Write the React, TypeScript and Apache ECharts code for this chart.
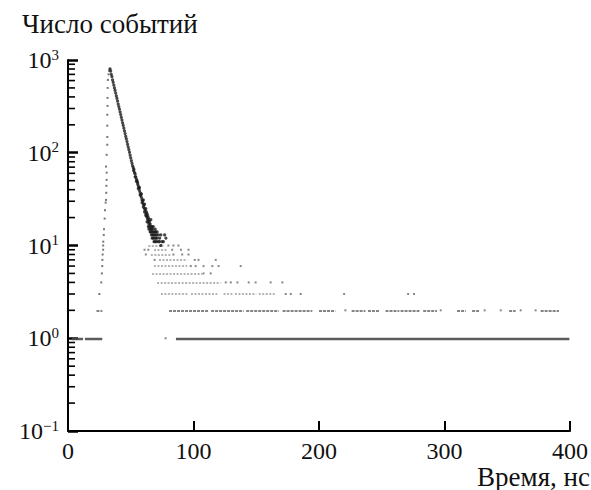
import React, { useEffect, useRef } from "react";
import * as echarts from "echarts";

// ---- data (time in ns, count of events) ----
const xTicks = [0, 100, 200, 300, 400];
const yMajor = [0.1, 1, 10, 100, 1000];
const yMinor = [0.2, 0.3, 0.4, 0.5, 0.6, 0.7, 0.8, 0.9, 2, 3, 4, 5, 6, 7, 8, 9, 20, 30, 40, 50, 60, 70, 80, 90, 200, 300, 400, 500, 600, 700, 800, 900];

// rising edge of the peak
const risePoints: [number, number][] = [
  [25, 3], [26.5, 4], [27, 5], [27.3, 6], [27.4, 7], [27.6, 8], [28, 9], [28, 10], [28.1, 11],
  [28.5, 13], [28.7, 15], [29.2, 19.5], [29.5, 24], [30, 29], [30.3, 31], [30.5, 37], [30.6, 44],
  [30.8, 51], [30.8, 61], [30.3, 71], [30.8, 95], [31.3, 122], [31.3, 148], [31.3, 196], [31.3, 257],
  [31.5, 320], [31.5, 390], [31.6, 500], [31.8, 610], [32.3, 700], [32.8, 760], [33.2, 790],
];

// peak and decay
const decayPoints: [number, number][] = [
  [33.5, 800], [34.0, 760], [34.5, 700], [35.0, 660], [35.5, 610], [36.0, 575], [36.5, 535], [37.0, 500],
  [37.5, 470], [38.0, 440], [38.5, 410], [39.0, 385], [39.5, 360], [40.0, 335], [40.5, 315], [41.0, 295],
  [41.5, 275], [42.0, 258], [42.5, 240], [43.0, 225], [43.5, 210], [44.0, 197], [44.5, 184], [45.0, 172],
  [45.5, 161], [46.0, 150], [46.5, 141], [47.0, 132], [47.5, 123], [48.0, 115], [48.5, 108], [49.0, 101],
  [49.5, 94], [50.0, 88], [50.5, 82], [51.0, 77], [51.5, 72], [52.0, 69], [52.3, 64], [52.5, 66],
  [53.0, 61], [53.5, 59], [53.5, 55], [54.0, 55], [54.5, 52], [54.5, 49], [55.0, 50], [55.5, 46],
  [55.5, 48], [56.0, 44], [56.0, 41], [56.5, 42], [57.0, 39], [57.0, 42], [57.5, 37], [57.5, 35],
  [58.0, 35], [58.5, 33], [58.5, 36], [59.0, 31], [59.0, 29], [59.5, 30], [60.0, 28], [60.0, 31],
  [60.0, 26], [60.5, 27], [61.0, 25], [61.0, 28], [61.0, 23], [61.5, 24], [62.0, 22], [62.0, 25],
  [62.0, 21], [62.5, 21], [62.5, 23], [63.0, 20], [63.0, 18], [63.0, 22], [63.5, 19], [63.5, 21],
  [64.0, 18], [64.0, 16], [64.0, 20], [64.5, 17], [64.5, 19], [64.5, 15], [65.0, 16], [65.0, 18],
  [65.5, 15], [65.5, 17], [65.5, 14], [66.0, 16], [66.0, 14], [66.0, 19], [66.5, 15], [66.5, 13],
  [67.0, 14], [67.0, 16], [67.0, 12], [67.5, 13], [67.5, 15], [68.0, 14], [68.0, 12], [68.0, 16],
  [68.5, 13], [68.5, 11], [69.0, 12], [69.0, 14], [69.5, 13], [69.5, 11], [69.5, 15], [70.0, 12],
  [70.0, 14], [70.5, 11], [70.5, 13], [71.0, 12], [71.0, 14], [72.0, 11], [72.0, 13], [73.0, 12],
  [73.0, 11], [74.0, 13], [74.0, 10], [75.0, 11], [76.0, 11], [77.0, 13], [78.0, 12],
];

// dense runs of bins at the low integer counts: [start ns, end ns]
const runs1: [number, number][] = [[3, 12], [13.5, 27.3], [86, 399.5]];
const runs2: [number, number][] = [
  [22.7, 27.4], [80.5, 112], [114, 140], [142, 168], [171, 194.7], [200, 213], [226, 237], [239, 248],
  [253, 264], [265, 280], [283, 294], [310, 317], [322, 327.5], [351.5, 356.7], [376.6, 391.2],
];
const runs3: [number, number][] = [[74, 96], [98, 119], [124, 131], [133, 150], [152, 165]];
const runs4: [number, number][] = [[71, 121.6]];
const runs5: [number, number][] = [[67, 107]];
const runs6: [number, number][] = [[68.5, 95]];
const runs7: [number, number][] = [[72.5, 95]];
const runs8: [number, number][] = [[66, 82]];
const runs9: [number, number][] = [[68.5, 79]];
const runs10: [number, number][] = [[64, 76]];

// isolated bins: [time ns, count]
const singles: [number, number][] = [
  [77.8, 1], [221, 2], [297, 2], [332, 2], [344.8, 2], [360.7, 2], [372.6, 2],
  [173.5, 3], [177.5, 3], [185.4, 3], [220, 3], [271, 3], [275.7, 3],
  [125.7, 4], [129.7, 4], [135, 4], [144, 4], [149.5, 4], [161.5, 4], [170.8, 4],
  [108, 5], [113.7, 5],
  [97.8, 6], [101.7, 6], [108, 6], [115, 6], [120, 6], [137.6, 6],
  [69, 7], [101, 7], [104, 7], [117.7, 7],
  [62, 8], [84, 8], [91, 8], [96, 8],
  [61, 9], [64, 9], [83, 9], [90, 9], [96, 9],
  [80, 10], [84, 10], [88, 10],
];

const SERIF = "Liberation Serif";

function toLines(runs: [number, number][], level: number) {
  return runs.map(([s, e]) => ({ coords: [[s, level], [e, level]] }));
}

function supLabel(value: number) {
  const e = Math.round(Math.log10(value));
  const s = e < 0 ? "\u2212" + Math.abs(e) : String(e);
  return "{b|10}{s|" + s + "}";
}

export default function App() {
  const ref = useRef<HTMLDivElement>(null);
  useEffect(() => {
    if (!ref.current) return;
    const chart = echarts.init(ref.current, undefined, { renderer: "svg" });
    const upperRows = [
      ...toLines(runs3, 3), ...toLines(runs4, 4), ...toLines(runs5, 5), ...toLines(runs6, 6),
      ...toLines(runs7, 7), ...toLines(runs8, 8), ...toLines(runs9, 9), ...toLines(runs10, 10),
    ];
    chart.setOption({
      animation: false,
      backgroundColor: "#fff",
      grid: { left: 68, right: 21, top: 60, bottom: 59 },
      graphic: [
        { type: "text", left: 22, top: 10, style: { text: "Число событий", fontFamily: SERIF, fontSize: 27, fill: "#111" } },
        { type: "text", right: 1, top: 463, style: { text: "Время, нс", fontFamily: SERIF, fontSize: 27, fill: "#111" } },
      ],
      xAxis: {
        type: "value",
        min: xTicks[0],
        max: xTicks[xTicks.length - 1],
        interval: 100,
        splitLine: { show: false },
        axisLine: { show: true, lineStyle: { color: "#000", width: 2 } },
        axisTick: { show: true, inside: true, length: 10, lineStyle: { color: "#000", width: 2 } },
        axisLabel: { show: true, color: "#111", fontFamily: SERIF, fontSize: 24, margin: 8 },
      },
      yAxis: {
        type: "log",
        logBase: 10,
        min: yMajor[0],
        max: yMajor[yMajor.length - 1],
        position: "left",
        splitLine: { show: false },
        axisLine: { show: true, lineStyle: { color: "#000", width: 2 } },
        axisTick: { show: true, inside: true, length: 10, lineStyle: { color: "#000", width: 2.5 } },
        axisLabel: {
          show: true,
          formatter: supLabel,
          margin: 9,
          rich: {
            b: { fontFamily: SERIF, fontSize: 24, color: "#111", lineHeight: 26 },
            s: { fontFamily: SERIF, fontSize: 15, color: "#111", verticalAlign: "top", lineHeight: 15 },
          },
        },
      },
      series: [
        {
          // minor ticks of the log axis, placed through the axis scale
          type: "scatter",
          data: yMinor.map((v) => [0, v]),
          symbol: "rect",
          symbolSize: [7, 1.6],
          symbolOffset: [3.5, 0],
          itemStyle: { color: "#000", opacity: 1 },
          clip: false,
          silent: true,
          z: 5,
        },
        {
          type: "lines",
          coordinateSystem: "cartesian2d",
          data: upperRows,
          lineStyle: { color: "#8a8a8a", width: 1.6, opacity: 0.85, type: [2, 1.5] },
          silent: true,
        },
        {
          type: "lines",
          coordinateSystem: "cartesian2d",
          data: toLines(runs2, 2),
          lineStyle: { color: "#777", width: 1.8, opacity: 0.9, type: [3, 1] },
          silent: true,
        },
        {
          type: "lines",
          coordinateSystem: "cartesian2d",
          data: toLines(runs1, 1),
          lineStyle: { color: "#4a4a4a", width: 2.4, opacity: 0.9 },
          silent: true,
        },
        {
          type: "scatter",
          data: singles,
          symbol: "rect",
          symbolSize: 2,
          itemStyle: { color: "#888", opacity: 1 },
          silent: true,
        },
        {
          type: "scatter",
          data: risePoints,
          symbol: "rect",
          symbolSize: 2,
          itemStyle: { color: "#777", opacity: 1 },
          silent: true,
        },
        {
          type: "scatter",
          data: decayPoints,
          symbolSize: 3.2,
          itemStyle: { color: "#1a1a1a", opacity: 0.8 },
          silent: true,
        },
      ],
    });
    return () => chart.dispose();
  }, []);
  return <div ref={ref} style={{ position: "absolute", left: 0, top: 0, width: 591, height: 490 }} />;
}
